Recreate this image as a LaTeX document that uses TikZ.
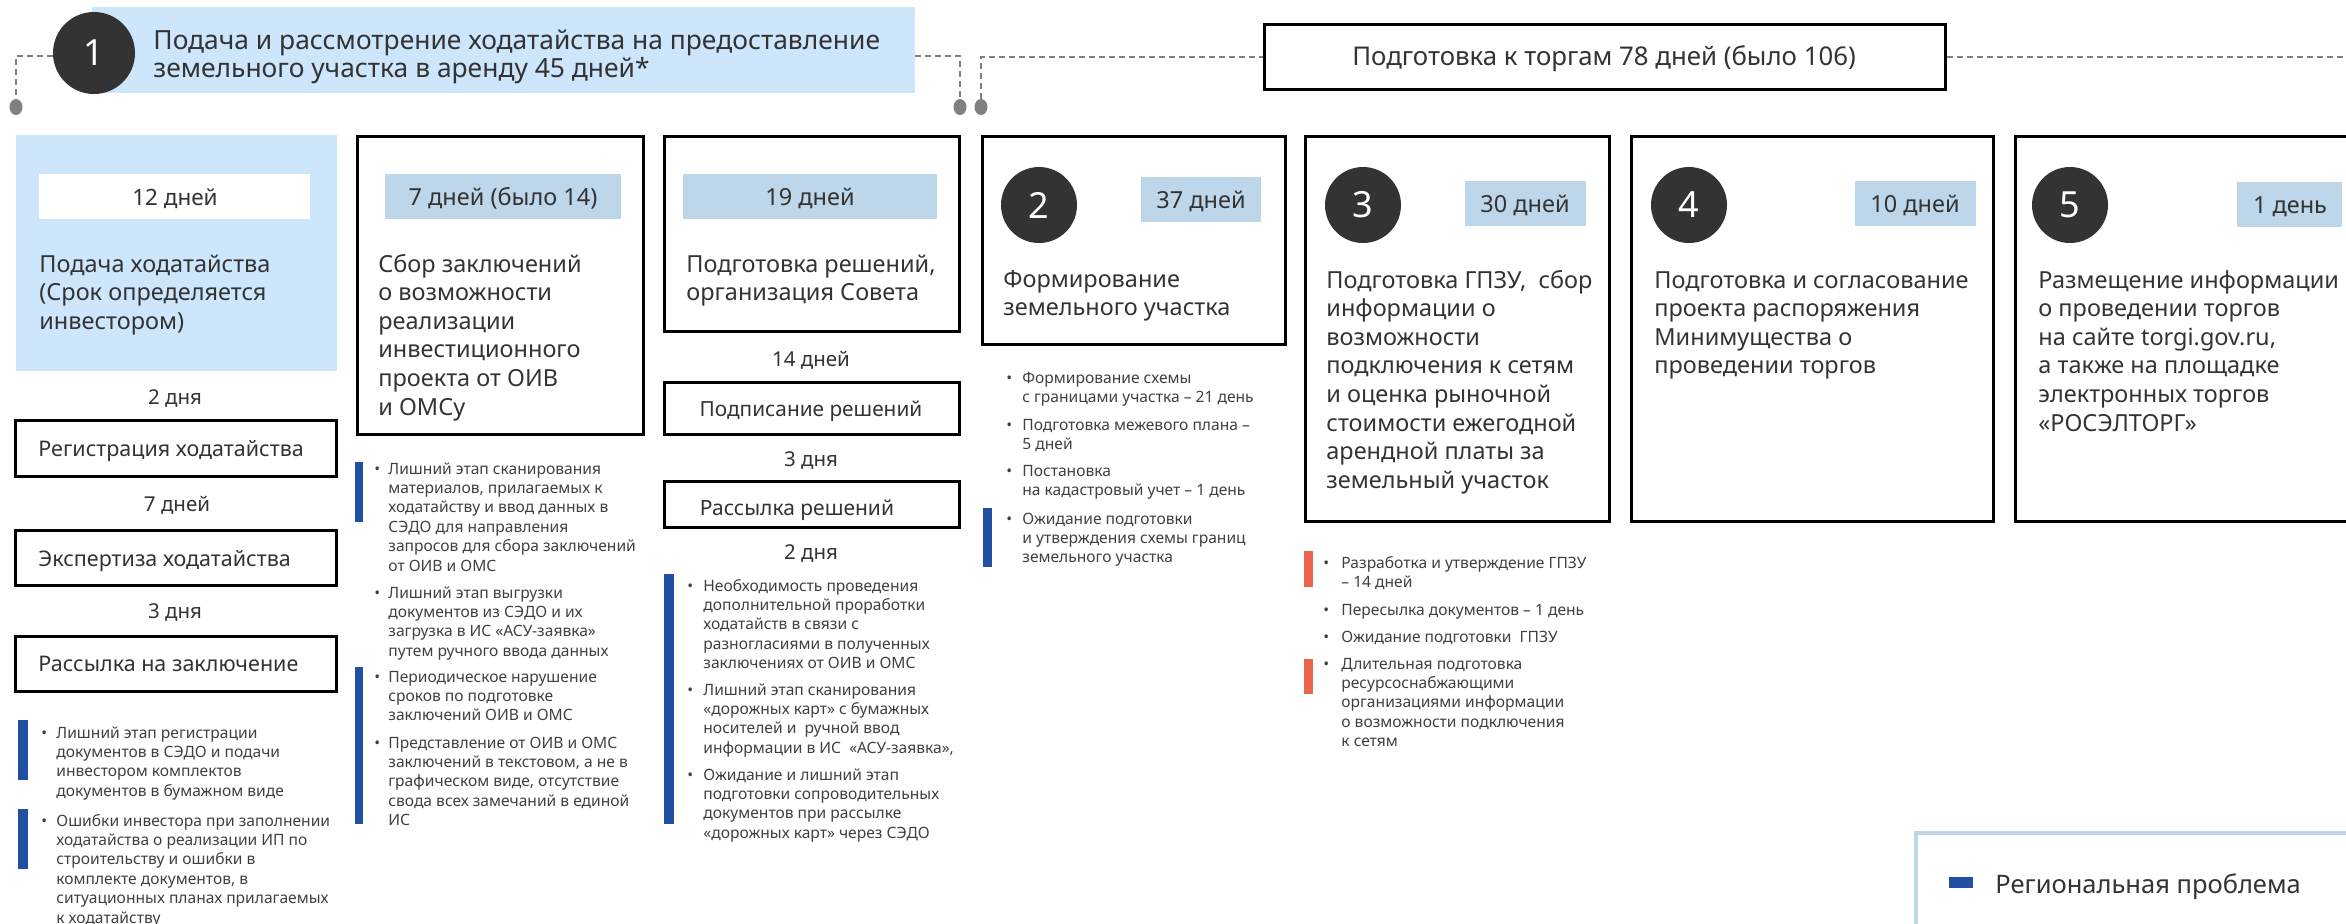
\documentclass[tikz,border=0pt]{standalone}
\usepackage{fontspec}
\setmainfont{Noto Sans}
\usetikzlibrary{fit,shapes.geometric}
\definecolor{tcol}{HTML}{333333}
\definecolor{bcol}{HTML}{404040}
\definecolor{lblue}{HTML}{CDE6FB}
\definecolor{dayc}{HTML}{BDD6E9}
\definecolor{darkc}{HTML}{333333}
\definecolor{greyl}{HTML}{808080}
\definecolor{barblue}{HTML}{2150A3}
\definecolor{barred}{HTML}{E9654B}
\newcommand{\myfs}[2]{\fontsize{#1}{#2}\selectfont}
\newcommand{\ml}[1]{\begin{tabular}[t]{@{}l@{}}#1\end{tabular}}
\newcommand{\bitem}[5]{%
  \node[bul,anchor=base west] (#4d) at (#1,#3) {•};
  \node[bul,anchor=base west] (#4) at (#2,#3) {\ml{#5}};}
\begin{document}
\begin{tikzpicture}[x=0.5pt,y=-0.5pt,
  txt/.style={inner sep=0,text=tcol},
  big/.style={txt,font=\myfs{11.75pt}{14.3pt}},
  sml/.style={txt,font=\myfs{10.75pt}{13pt}},
  gap/.style={txt,font=\myfs{10.25pt}{12pt}},
  bul/.style={inner sep=0,text=bcol,font=\myfs{7.8pt}{9.7pt}},
  numc/.style={circle,fill=darkc,text=white,minimum size=38pt,inner sep=0,font=\myfs{18pt}{18pt}},
  box/.style={draw=black,line width=1.5pt,inner sep=0},
  dayrect/.style={fill=dayc,inner sep=0},
  flat/.style={inner sep=0},
  dsh/.style={draw=greyl,line width=1pt,dash pattern=on 3pt off 2pt},
  gdot/.style={ellipse,fill=greyl,minimum width=6.5pt,minimum height=8pt,inner sep=0}]
\useasboundingbox (0,0) rectangle (2346,923);
\clip (0,0) rectangle (2346,923);

% ---------- header ----------
\node[flat,fill=lblue,fit={(92,7) (915,93)}] (hdr) {};
\node[numc,minimum size=41pt] (c1) at (94,53) {1};
\node[txt,font=\myfs{13.2pt}{14pt},anchor=base west] (hdrt) at (153,49)
  {\ml{Подача и рассмотрение ходатайства на предоставление\\земельного участка в аренду 45 дней*}};

\node[gdot] (d1) at (16,107) {};
\node[gdot] (d2) at (960,107) {};
\node[gdot] (d3) at (981,107) {};
\coordinate (hl) at (16,56);
\coordinate (hr) at (960,56);
\coordinate (rend) at (2346,56.5);
\node[box,fit={(1264,24) (1945,89)}] (torg) {};
\node[txt,font=\myfs{12.9pt}{14pt},anchor=base] (torgt) at (1604,65) {Подготовка к торгам 78 дней (было 106)};
\draw[dsh] (c1.west |- hl) -| (d1.north);
\draw[dsh] (hdr.east |- hr) -| (d2.north);
\draw[dsh] (d3.north) |- (torg.west);
\draw[dsh] (torg.east) -- (rend);

% ---------- column 1 ----------
\node[flat,fill=lblue,fit={(16,135) (337,371)}] (b1) {};
\node[flat,fill=white,fit={(39,174) (310,219)}] (b1d) {};
\node[txt,font=\myfs{11.25pt}{12pt},anchor=base] (b1dt) at (175,205) {12 дней};
\node[big,anchor=base west] (b1t) at (39,272) {\ml{Подача ходатайства\\(Срок определяется\\инвестором)}};
\node[gap,anchor=base] (g1) at (175,404) {2 дня};
\node[box,fit={(15,420) (336,476)}] (r1) {};
\node[sml,anchor=base west] (r1t) at (38,456) {Регистрация ходатайства};
\node[gap,anchor=base] (g2) at (177,511) {7 дней};
\node[box,fit={(15,530) (336,585)}] (r2) {};
\node[sml,anchor=base west] (r2t) at (38,566) {Экспертиза ходатайства};
\node[gap,anchor=base] (g3) at (175,618) {3 дня};
\node[box,fit={(15,636) (336,691)}] (r3) {};
\node[sml,anchor=base west] (r3t) at (38,671) {Рассылка на заключение};
\node[flat,fill=barblue,fit={(18,720) (28,780)}] (bar1) {};
\node[flat,fill=barblue,fit={(18,809) (28,869)}] (bar2) {};
\bitem{41}{56}{738}{p1a}{Лишний этап регистрации\\документов в СЭДО и подачи\\инвестором комплектов\\документов в бумажном виде}
\bitem{41}{56}{826}{p1b}{Ошибки инвестора при заполнении\\ходатайства о реализации ИП по\\строительству и ошибки в\\комплекте документов, в\\ситуационных планах прилагаемых\\к ходатайству}

% ---------- column 2 ----------
\node[box,fit={(357,136) (643,434)}] (b2) {};
\node[dayrect,fit={(385,174) (621,219)}] (b2d) {};
\node[big,anchor=base] (b2dt) at (503,205) {7 дней (было 14)};
\node[big,anchor=base west] (b2t) at (378,272) {\ml{Сбор заключений\\о возможности\\реализации\\инвестиционного\\проекта от ОИВ\\и ОМСу}};
\node[flat,fill=barblue,fit={(355,462) (363,522)}] (bar3) {};
\node[flat,fill=barblue,fit={(355,667) (363,824)}] (bar4) {};
\bitem{374}{388}{474}{p2a}{Лишний этап сканирования\\материалов, прилагаемых к\\ходатайству и ввод данных в\\СЭДО для направления\\запросов для сбора заключений\\от ОИВ и ОМС}
\bitem{374}{388}{598}{p2b}{Лишний этап выгрузки\\документов из СЭДО и их\\загрузка в ИС «АСУ-заявка»\\путем ручного ввода данных}
\bitem{374}{388}{682}{p2c}{Периодическое нарушение\\сроков по подготовке\\заключений ОИВ и ОМС}
\bitem{374}{388}{748}{p2d}{Представление от ОИВ и ОМС\\заключений в текстовом, а не в\\графическом виде, отсутствие\\свода всех замечаний в единой\\ИС}

% ---------- column 3 ----------
\node[box,fit={(664,136) (959,331)}] (b3) {};
\node[dayrect,fit={(683,174) (937,219)}] (b3d) {};
\node[big,anchor=base] (b3dt) at (810,205) {19 дней};
\node[big,anchor=base west] (b3t) at (686,272) {\ml{Подготовка решений,\\организация Совета}};
\node[gap,anchor=base] (g4) at (811,366) {14 дней};
\node[box,fit={(664,382) (959,434)}] (r4) {};
\node[txt,font=\myfs{10.4pt}{12pt},anchor=base] (r4t) at (811,416) {Подписание решений};
\node[gap,anchor=base] (g5) at (811,466) {3 дня};
\node[box,fit={(664,481) (959,527)}] (r5) {};
\node[txt,font=\myfs{10.5pt}{12pt},anchor=base] (r5t) at (797,515) {Рассылка решений};
\node[gap,anchor=base] (g6) at (811,559) {2 дня};
\node[flat,fill=barblue,fit={(664,574) (674,824)}] (bar5) {};
\bitem{687}{703}{591}{p3a}{Необходимость проведения\\дополнительной проработки\\ходатайств в связи с\\разногласиями в полученных\\заключениях от ОИВ и ОМС}
\bitem{687}{703}{695}{p3b}{Лишний этап сканирования\\«дорожных карт» с бумажных\\носителей и~ ручной ввод\\информации в ИС~ «АСУ-заявка»,}
\bitem{687}{703}{780}{p3c}{Ожидание и лишний этап\\подготовки сопроводительных\\документов при рассылке\\«дорожных карт» через СЭДО}

% ---------- column 4 (stage 2) ----------
\node[box,fit={(982,136) (1285,344)}] (b4) {};
\node[numc] (c2) at (1039,205) {2};
\node[dayrect,fit={(1141,177) (1261,222)}] (b4d) {};
\node[big,anchor=base] (b4dt) at (1201,208) {37 дней};
\node[big,anchor=base west] (b4t) at (1003,287) {\ml{Формирование\\земельного участка}};
\node[flat,fill=barblue,fit={(983,508) (992,567)}] (bar6) {};
\bitem{1006}{1022}{383}{p4a}{Формирование схемы\\с границами участка – 21 день}
\bitem{1006}{1022}{430}{p4b}{Подготовка межевого плана –\\5 дней}
\bitem{1006}{1022}{476}{p4c}{Постановка\\на кадастровый учет – 1 день}
\bitem{1006}{1022}{524}{p4d}{Ожидание подготовки\\и утверждения схемы границ\\земельного участка}

% ---------- column 5 (stage 3) ----------
\node[box,fit={(1305,136) (1609,521)}] (b5) {};
\node[numc] (c3) at (1363,205) {3};
\node[dayrect,fit={(1465,181) (1586,226)}] (b5d) {};
\node[big,anchor=base] (b5dt) at (1525,212) {30 дней};
\node[big,anchor=base west] (b5t) at (1326,288) {\ml{Подготовка ГПЗУ,~ сбор\\информации о\\возможности\\подключения к сетям\\и оценка рыночной\\стоимости ежегодной\\арендной платы за\\земельный участок}};
\node[flat,fill=barred,fit={(1304,551) (1313,587)}] (bar7) {};
\node[flat,fill=barred,fit={(1304,659) (1313,694)}] (bar8) {};
\bitem{1323}{1341}{568}{p5a}{Разработка и утверждение ГПЗУ\\– 14 дней}
\bitem{1323}{1341}{615}{p5b}{Пересылка документов – 1 день}
\bitem{1323}{1341}{642}{p5c}{Ожидание подготовки~ ГПЗУ}
\bitem{1323}{1341}{669}{p5d}{Длительная подготовка\\ресурсоснабжающими\\организациями информации\\о возможности подключения\\к сетям}

% ---------- column 6 (stage 4) ----------
\node[box,fit={(1631,136) (1993,521)}] (b6) {};
\node[numc] (c4) at (1689,205) {4};
\node[dayrect,fit={(1855,181) (1976,226)}] (b6d) {};
\node[big,anchor=base] (b6dt) at (1915,212) {10 дней};
\node[big,anchor=base west] (b6t) at (1654,288) {\ml{Подготовка и согласование\\проекта распоряжения\\Минимущества о\\проведении торгов}};

% ---------- column 7 (stage 5) ----------
\node[box,fit={(2015,136) (2370,521)}] (b7) {};
\node[numc] (c5) at (2070,205) {5};
\node[dayrect,fit={(2237,182) (2342,227)}] (b7d) {};
\node[big,anchor=base] (b7dt) at (2290,213) {1 день};
\node[big,anchor=base west] (b7t) at (2038,288) {\ml{Размещение информации\\о проведении торгов\\на сайте torgi.gov.ru,\\а также на площадке\\электронных торгов\\«РОСЭЛТОРГ»}};

% ---------- legend ----------
\node[draw=dayc,line width=2.25pt,inner sep=0,fit={(1916,833) (2370,950)}] (leg) {};
\node[flat,fill=barblue,fit={(1949,877) (1973,888)}] (legsq) {};
\node[txt,font=\myfs{12.75pt}{14pt},anchor=base west] (legt) at (1995,893) {Региональная проблема};
\end{tikzpicture}
\end{document}
